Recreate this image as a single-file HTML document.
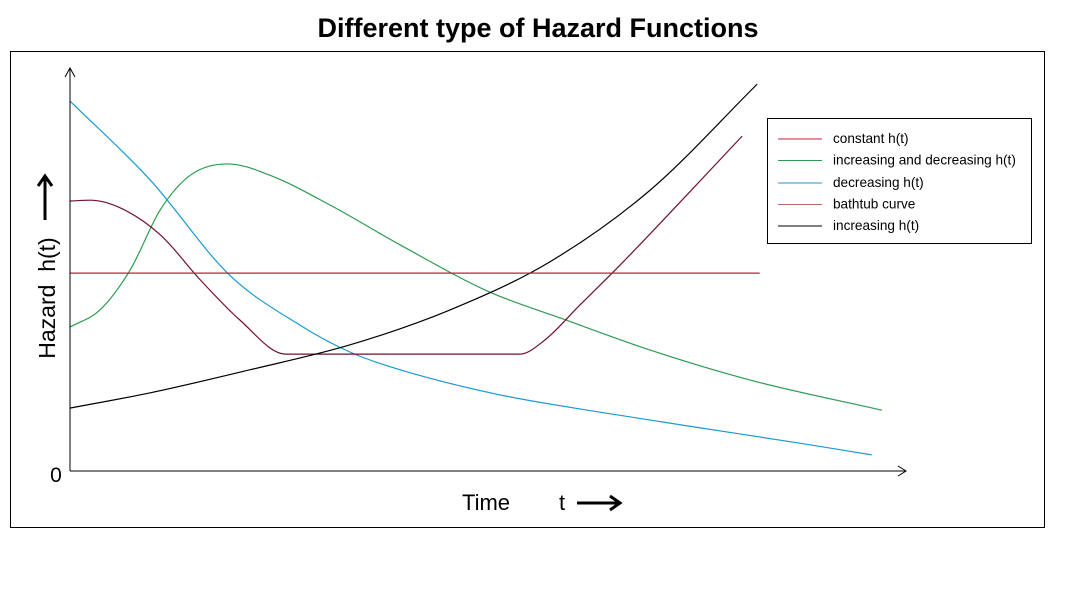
<!DOCTYPE html>
<html><head><meta charset="utf-8"><style>
body{margin:0;background:#fff;width:1092px;height:592px;overflow:hidden;font-family:"Liberation Sans",sans-serif}
</style></head><body>
<svg width="1092" height="592">
<text x="538" y="37" text-anchor="middle" font-size="27" font-weight="bold">Different type of Hazard Functions</text>
<rect x="10.5" y="51.5" width="1034" height="476" fill="none" stroke="#000"/>
<g id="plot"></g>
<line x1="70" y1="471" x2="906" y2="471" stroke="#000"/>
<polyline points="898,466 906,471 898,476" fill="none" stroke="#000"/>
<line x1="70" y1="471" x2="70" y2="68" stroke="#000"/>
<polyline points="65,77 70,68 75,77" fill="none" stroke="#000"/>
<text x="56" y="482" text-anchor="middle" font-size="21">0</text>
<text transform="translate(55,298) rotate(-90)" text-anchor="middle" font-size="23">Hazard&#160;&#160;h(t)</text>
<g><line x1="45" y1="220" x2="45" y2="177" stroke="#000" stroke-width="3"/><polyline points="38,186 45,176 52,186" fill="none" stroke="#000" stroke-width="3"/></g>
<text x="486" y="510" text-anchor="middle" font-size="22">Time</text>
<text x="562" y="510" text-anchor="middle" font-size="22">t</text>
<g><line x1="577" y1="503" x2="618" y2="503" stroke="#000" stroke-width="3"/><polyline points="610,496 620,503 610,510" fill="none" stroke="#000" stroke-width="3"/></g>
<g>
<rect x="767.5" y="118.5" width="264" height="125" fill="#fff" stroke="#000"/>
<g id="legend"></g>
</g>
</svg>
<script>
const constT=[0,82.5], constH=[49.1,49.1];
const incDecT=[0,3.6,7.2,10.8,14.4,18.9,23.9,31.1,39.5,50.2,58.6,69.4,81.3,97.1];
const incDecH=[35.7,40.0,49.9,64.8,73.4,76.2,73.4,66.0,56.1,44.4,38.0,30.0,22.6,15.1];
const decT=[0,9.6,19.1,27.5,33.5,39.5,51.4,63.4,75.4,87.3,95.9];
const decH=[91.8,72.2,48.6,36.2,29.5,25.1,18.9,14.6,10.7,6.9,4.0];
const bathT=[0,2.4,6.0,10.8,15.6,20.3,25.8,53.8,56.8,61.0,65.8,73.2,80.4];
const bathH=[67.0,67.2,65.3,58.6,47.4,37.5,29.0,29.0,32.5,41.2,51.1,67.2,83.1];
const incT=[0,9.6,21.5,33.5,45.5,57.4,69.4,82.2];
const incH=[15.6,19.4,25.1,31.3,40.0,51.9,69.7,96.0];
const legendLabels=["constant h(t)","increasing and decreasing h(t)","decreasing h(t)"," bathtub curve","increasing h(t)"];
const legendColors=["#c0203a","#2e9a50","#1a9ad0","#b07060","#000"];
const xs=t=>70+t*8.36, ys=h=>471-h*4.03;
const NS="http://www.w3.org/2000/svg";
function pathD(T,H){
 const x=T.map(xs), y=H.map(ys), n=x.length;
 let d="M"+x[0]+","+y[0];
 if(n<3){for(let i=1;i<n;i++)d+=" L"+x[i]+","+y[i];return d;}
 const s=[];for(let i=0;i<n-1;i++)s.push((y[i+1]-y[i])/(x[i+1]-x[i]));
 const m=[s[0]];for(let i=1;i<n-1;i++){m.push(s[i-1]*s[i]<=0?0:(s[i-1]+s[i])/2);}m.push(s[n-2]);
 for(let i=0;i<n-1;i++){if(s[i]===0){m[i]=0;m[i+1]=0;continue;}const a=m[i]/s[i],b=m[i+1]/s[i],q=a*a+b*b;if(q>9){const t=3/Math.sqrt(q);m[i]=t*a*s[i];m[i+1]=t*b*s[i];}}
 for(let i=0;i<n-1;i++){const h=(x[i+1]-x[i])/3;d+=" C"+(x[i]+h)+","+(y[i]+m[i]*h)+" "+(x[i+1]-h)+","+(y[i+1]-m[i+1]*h)+" "+x[i+1]+","+y[i+1];}
 return d;}
const plot=document.getElementById("plot");
function add(T,H,col,name){const el=document.createElementNS(NS,"path");el.setAttribute("d",pathD(T,H));el.setAttribute("fill","none");el.setAttribute("stroke",col);el.setAttribute("stroke-width","1.2");


plot.appendChild(el);}
add(decT,decH,"#1a9ad0","decreasing-line");
add(incDecT,incDecH,"#2e9a50","increasing-decreasing-line");
add(bathT,bathH,"#701030","bathtub-line");
add(incT,incH,"#000","increasing-line");
add(constT,constH,"#c0203a","constant-line");
const lg=document.getElementById("legend");
legendLabels.forEach((l,i)=>{const y=139+i*21.5+(i>=2?1:0);
const ln=document.createElementNS(NS,"line");ln.setAttribute("x1",778);ln.setAttribute("x2",822);ln.setAttribute("y1",y);ln.setAttribute("y2",y);ln.setAttribute("stroke",legendColors[i]);


lg.appendChild(ln);
const tx=document.createElementNS(NS,"text");tx.setAttribute("x",833);tx.setAttribute("y",y+4);tx.setAttribute("font-size","13.6");tx.textContent=l;


lg.appendChild(tx);});
</script>
</body></html>
